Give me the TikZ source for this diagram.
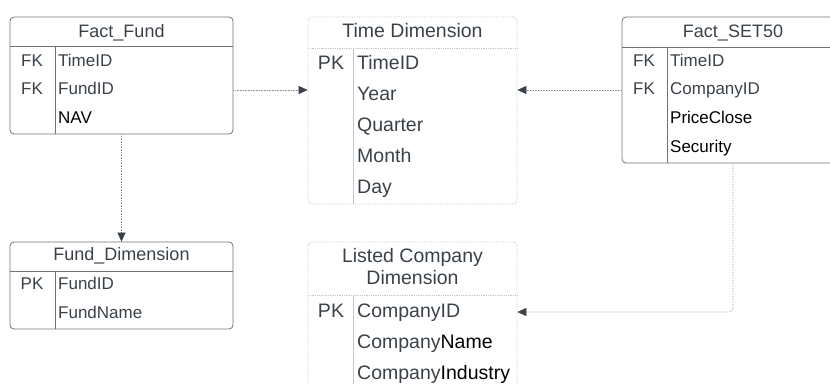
\documentclass[tikz,border=0pt]{standalone}
\usepackage{fontspec}
\setmainfont{Liberation Sans}
\usetikzlibrary{arrows.meta}

\definecolor{ink}{HTML}{3A4149}
\definecolor{factline}{HTML}{6E737A}
\definecolor{dimline}{HTML}{C4C7CB}
\definecolor{connline}{HTML}{8C9096}

\tikzset{
  fact/.style={draw=factline, line width=0.8pt, rounded corners=4pt, inner sep=0pt},
  dim/.style={draw=dimline, densely dotted, line width=0.8pt, rounded corners=4pt, inner sep=0pt},
  txt/.style={text=ink, font=\fontsize{17}{21}\selectfont, inner sep=0pt, anchor=base},
  title/.style={txt, font=\fontsize{18}{22}\selectfont},
  dtxt/.style={txt, font=\fontsize{19.5}{23}\selectfont},
  field/.style={txt, anchor=base west},
  dfield/.style={dtxt, anchor=base west},
  conn/.style={draw=connline, densely dotted, line width=0.6pt,
    -{Triangle[length=9pt,width=8pt,fill=ink,color=ink]}},
}

\begin{document}
\begin{tikzpicture}[x=1pt,y=-1pt]
  \clip (0,0) rectangle (830,383);

  % boxes
  \node[fact, minimum width=223pt, minimum height=117pt] (factfund) at (121.5,75.5) {};
  \node[dim,  minimum width=209pt, minimum height=187pt] (timedim)  at (412.5,110.5) {};
  \node[fact, minimum width=222pt, minimum height=146pt] (factset)  at (733,90) {};
  \node[fact, minimum width=223pt, minimum height=87pt]  (funddim)  at (121.5,285.5) {};
  \node[dim,  minimum width=209pt, minimum height=180pt] (compdim)  at (412.5,332) {};

  % table rules
  \draw[factline, line width=0.8pt] (10,46.5) -- (233,46.5);
  \draw[factline, line width=0.8pt] (55,46.5) -- (55,134);
  \draw[dimline, densely dotted, line width=0.8pt] (308,48) -- (517,48);
  \draw[dimline, line width=0.8pt] (353,48) -- (353,204);
  \draw[factline, line width=0.8pt] (622,47) -- (844,47);
  \draw[factline, line width=0.8pt] (667,47) -- (667,163);
  \draw[factline, line width=0.8pt] (10,271.5) -- (233,271.5);
  \draw[factline, line width=0.8pt] (55,271.5) -- (55,329);
  \draw[dimline, densely dotted, line width=0.8pt] (308,295) -- (517,295);
  \draw[dimline, line width=0.8pt] (353,295) -- (353,422);

  % Fact_Fund
  \node[title] (fftitle) at (121.5,37.5) {Fact\_Fund};
  \node[txt] (ffk1) at (32,66) {FK};
  \node[txt] (ffk2) at (32,94.5) {FK};
  \node[field] (fftime) at (58,66) {TimeID};
  \node[field] (fffund) at (58,94.5) {FundID};
  \node[field, text=black] (ffnav) at (58,123.5) {NAV};

  % Time Dimension
  \node[dtxt] (tdtitle) at (412.5,37) {Time Dimension};
  \node[dtxt] (tdpk) at (331,69) {PK};
  \node[dfield] (tdtime)    at (357,69)  {TimeID};
  \node[dfield] (tdyear)    at (357,100)  {Year};
  \node[dfield] (tdquarter) at (357,131) {Quarter};
  \node[dfield] (tdmonth)   at (357,162) {Month};
  \node[dfield] (tdday)     at (357,193) {Day};

  % Fact_SET50
  \node[title] (fstitle) at (733,37.5) {Fact\_SET50};
  \node[txt] (fsk1) at (644,66) {FK};
  \node[txt] (fsk2) at (644,94.5) {FK};
  \node[field] (fstime)  at (670,66)  {TimeID};
  \node[field] (fscomp)  at (670,94.5)  {CompanyID};
  \node[field, text=black] (fsprice) at (670,123.5) {PriceClose};
  \node[field, text=black] (fssec)   at (670,152.5) {Security};

  % Fund_Dimension
  \node[title] (fdtitle) at (121.5,260) {Fund\_Dimension};
  \node[txt] (fdpk) at (32,289.5) {PK};
  \node[field] (fdid)   at (58,289.5) {FundID};
  \node[field] (fdname) at (58,318.5) {FundName};

  % Listed Company Dimension
  \node[dtxt] (cdtitle) at (412.5,262) {Listed Company};
  \node[dtxt] (cdtitle2) at (412.5,284) {Dimension};
  \node[dtxt] (cdpk) at (331,317.5) {PK};
  \node[dfield] (cdid)   at (357,317.5) {CompanyID};
  \node[dfield] (cdname) at (357,348.5) {Company\textcolor{black}{Name}};
  \node[dfield] (cdind)  at (357,379.5) {Company\textcolor{black}{Industry}};

  % relations
  \coordinate (timerow) at (0,90);
  \coordinate (comprow) at (0,312);
  \draw[conn] (factfund.east |- timerow) -- (timedim.west |- timerow);
  \draw[conn] (factset.west |- timerow) -- (timedim.east |- timerow);
  \draw[conn] (factfund.south) -- (funddim.north);
  \draw[conn, rounded corners=4pt] (factset.south) |- (compdim.east |- comprow);
\end{tikzpicture}
\end{document}
